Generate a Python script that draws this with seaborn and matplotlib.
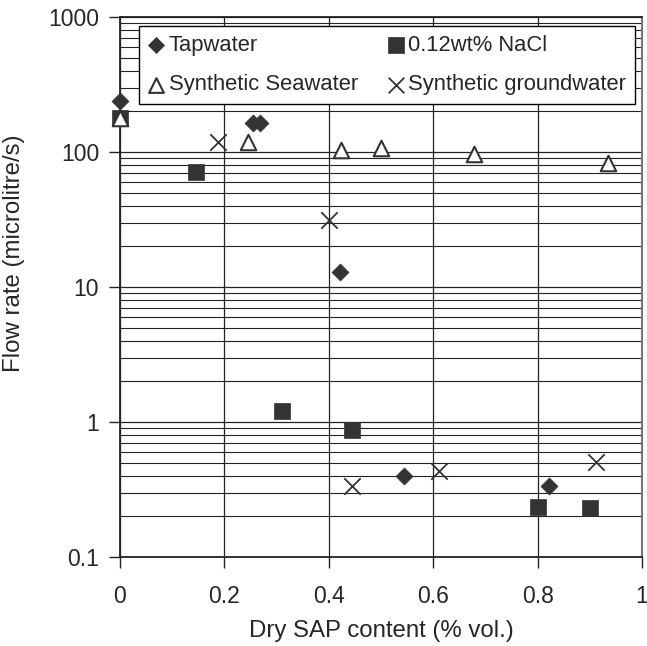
import seaborn as sb
import pandas as pd
import matplotlib.pyplot as plt
from matplotlib.ticker import LogLocator, FixedLocator, NullFormatter

# values
tap_x = [0.0, 0.255, 0.268, 0.421, 0.544, 0.822]
tap_y = [238, 165, 165, 12.9, 0.40, 0.336]

nacl_x = [0.0, 0.146, 0.31, 0.444, 0.80, 0.90]
nacl_y = [178, 71, 1.2, 0.87, 0.234, 0.231]

sea_x = [0.0, 0.245, 0.423, 0.50, 0.678, 0.935]
sea_y = [178, 118, 103, 107, 97, 83]

ground_x = [0.188, 0.40, 0.444, 0.611, 0.912]
ground_y = [118, 31.5, 0.336, 0.434, 0.505]

labels = ["Tapwater", "0.12wt% NaCl", "Synthetic Seawater", "Synthetic groundwater"]
xticks = [0, 0.2, 0.4, 0.6, 0.8, 1.0]
xtick_labels = ["0", "0.2", "0.4", "0.6", "0.8", "1"]
yticks = [0.1, 1, 10, 100, 1000]
ytick_labels = ["0.1", "1", "10", "100", "1000"]

sb.set_style("white")
plt.rcParams['font.family'] = ['Liberation Sans', 'DejaVu Sans']

dark = "#333333"
fig = plt.figure(figsize=(6.47, 6.46), dpi=100)
ax = fig.add_axes([120 / 647, 1 - 557 / 646, 522 / 647, 540 / 646])

sb.scatterplot(x=tap_x, y=tap_y, marker="D", s=75, color=dark,
               edgecolor=dark, linewidth=0.5, ax=ax, zorder=5, clip_on=False)
sb.scatterplot(x=nacl_x, y=nacl_y, marker="s", s=140, color=dark,
               edgecolor=dark, linewidth=0.5, ax=ax, zorder=5, clip_on=False)
sb.scatterplot(x=sea_x, y=sea_y, marker="^", s=125, color="white",
               edgecolor=dark, linewidth=1.5, ax=ax, zorder=6, clip_on=False)
sb.scatterplot(x=ground_x, y=ground_y, marker="x", s=140, color=dark,
               linewidth=1.3, ax=ax, zorder=5, clip_on=False)

handles = ax.collections[:4]

ax.set_yscale("log")
ax.set_ylim(0.1, 1000)
ax.set_xlim(0, 1)
ax.xaxis.set_major_locator(FixedLocator(xticks))
ax.set_xticklabels(xtick_labels)
ax.yaxis.set_major_locator(FixedLocator(yticks))
ax.set_yticklabels(ytick_labels)
ax.yaxis.set_minor_locator(LogLocator(base=10, subs=range(2, 10)))
ax.yaxis.set_minor_formatter(NullFormatter())

ax.grid(axis='y', which='major', color='#222222', lw=0.9)
ax.grid(axis='y', which='minor', color='#222222', lw=0.8)
ax.grid(axis='x', which='major', color='#222222', lw=0.9)
ax.tick_params(axis='both', which='major', direction='out', length=8, width=1,
               color='#222222', bottom=True, left=True, labelsize=16.5)
ax.tick_params(axis='x', which='major', pad=12)
ax.tick_params(axis='y', which='major', pad=7)
ax.tick_params(axis='y', which='minor', length=0)

for side in ['left', 'bottom', 'top']:
    ax.spines[side].set_color('#222222')
    ax.spines[side].set_linewidth(1.3)
ax.spines['right'].set_color('#777777')
ax.spines['right'].set_linewidth(1.5)

ax.set_xlabel("Dry SAP content (% vol.)", fontsize=17.3, labelpad=9)
ax.set_ylabel("Flow rate (microlitre/s)", fontsize=17.3)
ax.yaxis.set_label_coords(-0.182, 0.563)

order = [0, 2, 1, 3]
leg = ax.legend([handles[i] for i in order], [labels[i] for i in order], ncol=2,
                loc='upper left', bbox_to_anchor=(0.0364, 0.8444, 0.950, 0.139),
                mode='expand', frameon=True,
                fancybox=False, edgecolor='black', framealpha=1, fontsize=15.8,
                handlelength=0.75, handletextpad=0.2, columnspacing=1.5,
                borderpad=0.4, borderaxespad=0, labelspacing=0.85, markerscale=0.95)
leg.get_frame().set_linewidth(1.0)
leg.set_zorder(10)

plt.savefig("out.png", dpi=100)
